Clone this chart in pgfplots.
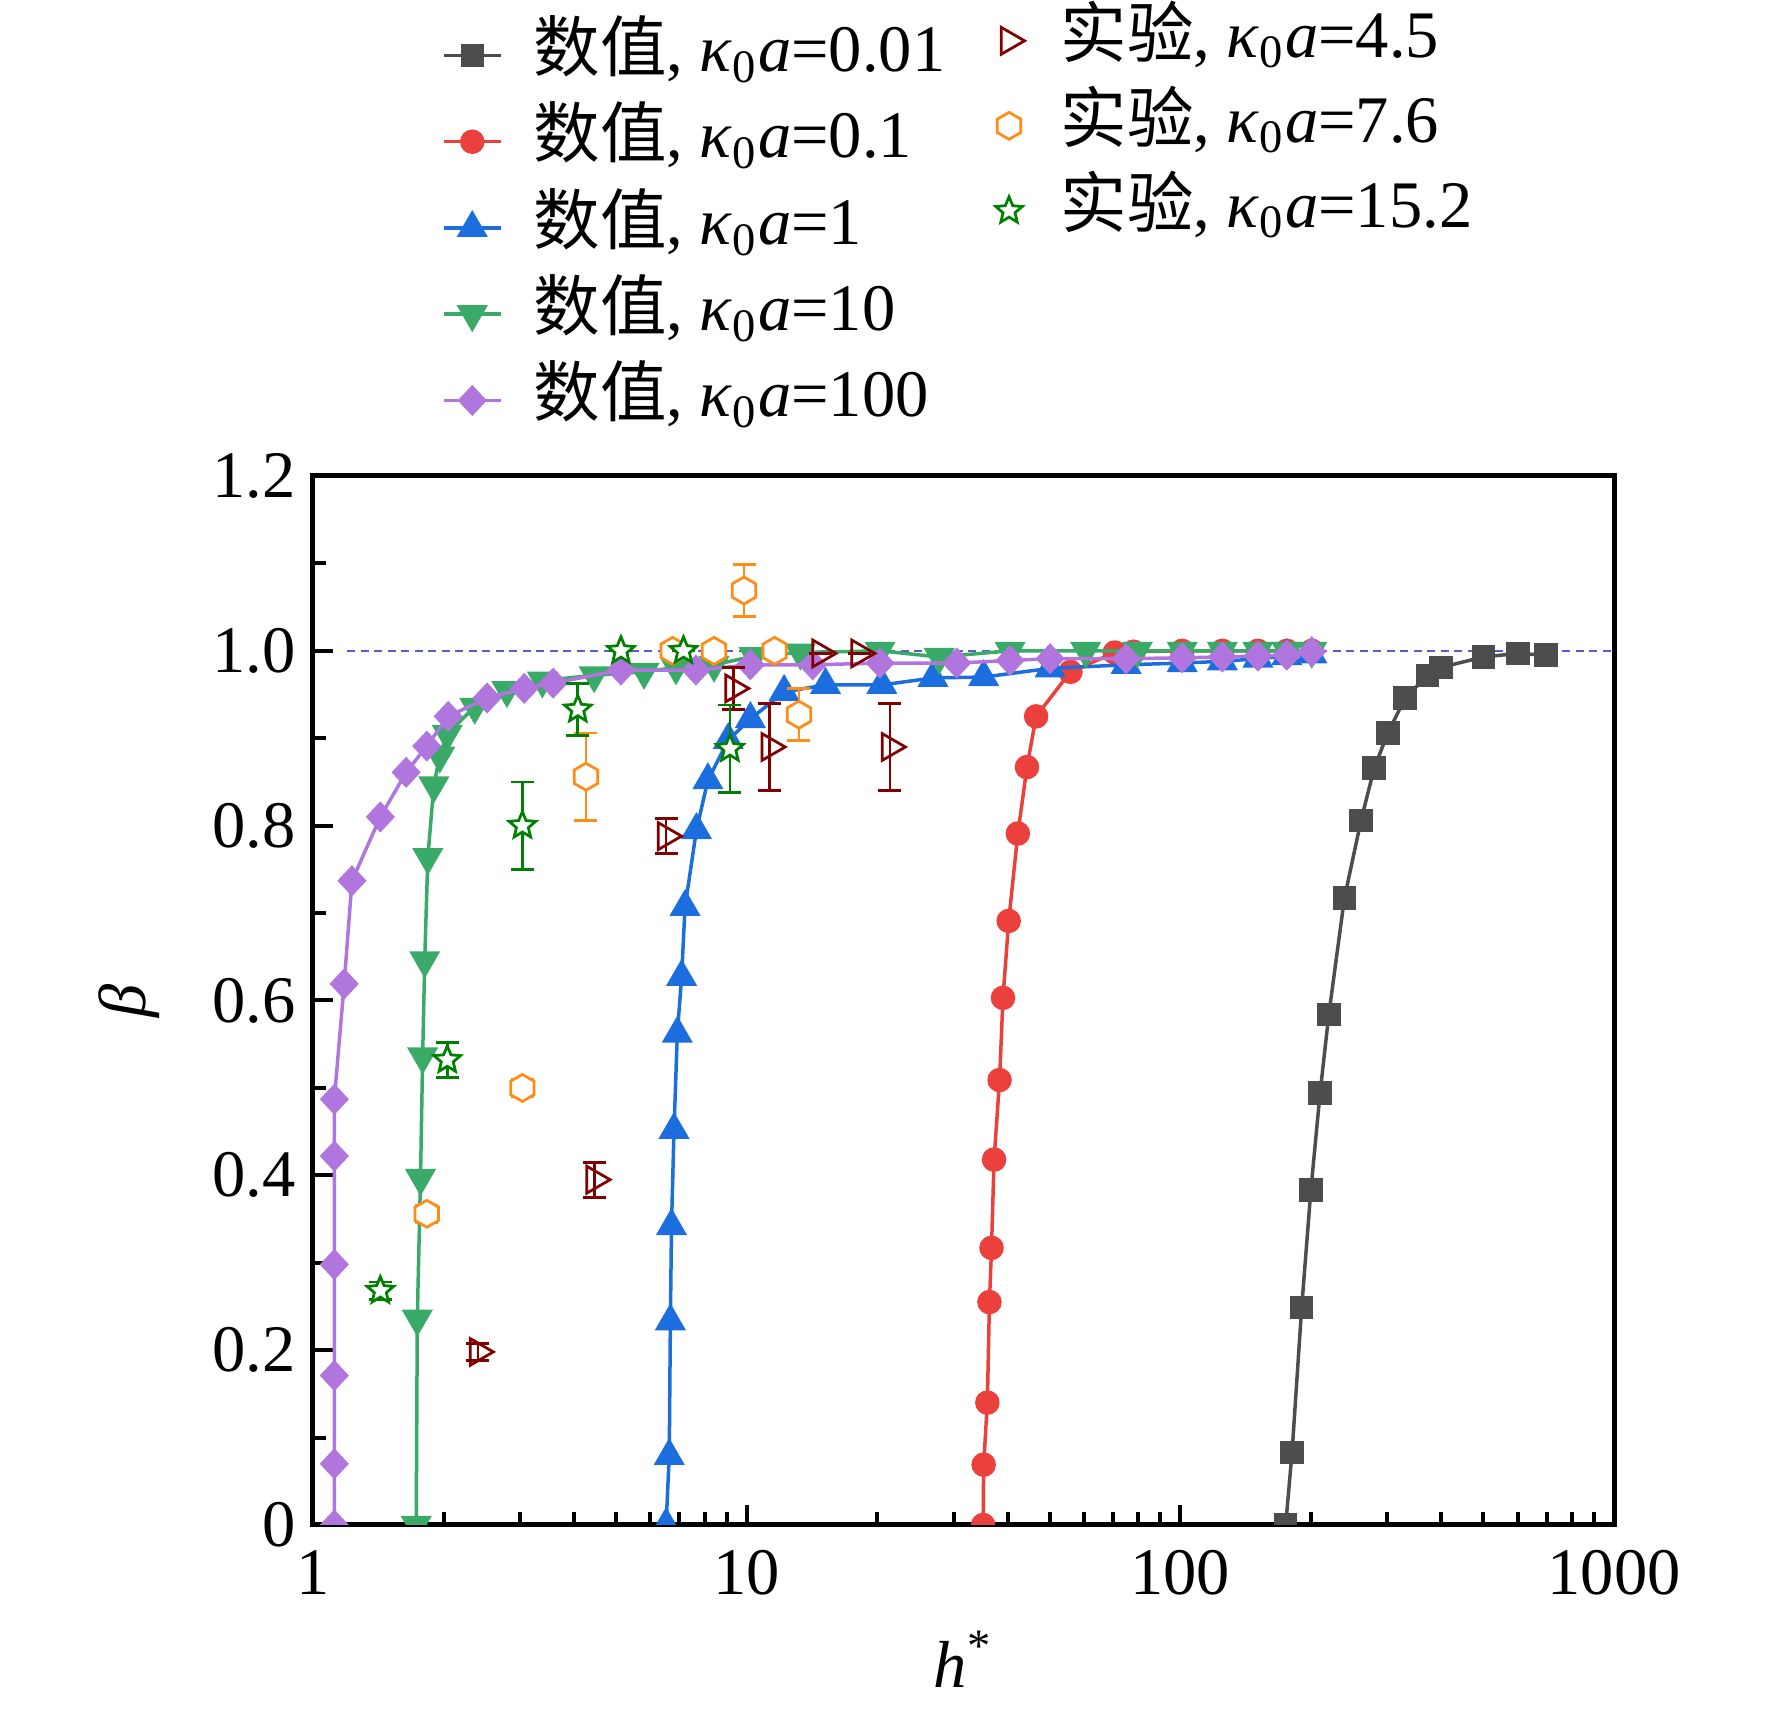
\documentclass[border=0pt]{standalone}
\usepackage{fontspec}
\setmainfont{Liberation Serif}
\newfontfamily\cjk{Noto Sans CJK SC}
\usepackage{pgfplots}
\usepackage{pgfplotstable}
\pgfplotsset{compat=1.18}
\usetikzlibrary{plotmarks}

\definecolor{cgray}{RGB}{77,77,77}
\definecolor{cred}{RGB}{235,64,60}
\definecolor{cblue}{RGB}{28,110,222}
\definecolor{cgreen}{RGB}{58,170,105}
\definecolor{cpurple}{RGB}{176,118,222}
\definecolor{cdred}{RGB}{128,0,0}
\definecolor{corange}{RGB}{255,140,20}
\definecolor{cstar}{RGB}{0,128,0}
\definecolor{cdash}{RGB}{90,90,210}

\pgfdeclareplotmark{hexagon}{%
  \pgfpathmoveto{\pgfpointpolar{90}{\pgfplotmarksize}}%
  \pgfpathlineto{\pgfpointpolar{150}{\pgfplotmarksize}}%
  \pgfpathlineto{\pgfpointpolar{210}{\pgfplotmarksize}}%
  \pgfpathlineto{\pgfpointpolar{270}{\pgfplotmarksize}}%
  \pgfpathlineto{\pgfpointpolar{330}{\pgfplotmarksize}}%
  \pgfpathlineto{\pgfpointpolar{30}{\pgfplotmarksize}}%
  \pgfpathclose
  \pgfusepathqfillstroke}
\pgfdeclareplotmark{ostar}{%
  \pgfpathmoveto{\pgfpointpolar{90}{\pgfplotmarksize}}%
  \pgfpathlineto{\pgfpointpolar{126}{0.45\pgfplotmarksize}}%
  \pgfpathlineto{\pgfpointpolar{162}{\pgfplotmarksize}}%
  \pgfpathlineto{\pgfpointpolar{198}{0.45\pgfplotmarksize}}%
  \pgfpathlineto{\pgfpointpolar{234}{\pgfplotmarksize}}%
  \pgfpathlineto{\pgfpointpolar{270}{0.45\pgfplotmarksize}}%
  \pgfpathlineto{\pgfpointpolar{306}{\pgfplotmarksize}}%
  \pgfpathlineto{\pgfpointpolar{342}{0.45\pgfplotmarksize}}%
  \pgfpathlineto{\pgfpointpolar{18}{\pgfplotmarksize}}%
  \pgfpathlineto{\pgfpointpolar{54}{0.45\pgfplotmarksize}}%
  \pgfpathclose
  \pgfusepathqfillstroke}

\pgfplotstableread{
x y
175 0.0
181 0.083
190.5 0.249
200 0.383
210 0.494
220 0.584
239 0.717
261 0.806
280 0.866
301 0.906
330 0.946
372 0.972
399 0.981
500 0.993
601 0.997
697 0.995
}\dataA
\pgfplotstableread{
x y
35.1 0.0
35.2 0.069
35.9 0.140
36.3 0.255
36.7 0.317
37.2 0.418
38.3 0.509
39.0 0.603
40.2 0.691
42.2 0.791
44.3 0.867
46.5 0.925
55.8 0.976
70.6 0.998
78 0.999
101 1.0
125 1.0
151 1.0
176 1.0
201 1.0
}\dataB
\pgfplotstableread{
x y
6.52 0.0
6.63 0.079
6.67 0.233
6.71 0.342
6.80 0.452
6.92 0.562
7.08 0.627
7.21 0.707
7.66 0.795
8.14 0.852
9.07 0.898
10.2 0.922
12.2 0.953
15.2 0.961
20.5 0.961
26.9 0.969
35.2 0.970
50.1 0.980
75 0.984
101 0.986
125 0.988
151 0.991
176 0.994
201 0.996
}\dataC
\pgfplotstableread{
x y
1.73 0.0
1.74 0.236
1.77 0.397
1.79 0.536
1.81 0.646
1.84 0.764
1.90 0.846
1.96 0.880
2.04 0.905
2.36 0.936
2.80 0.955
3.38 0.966
4.45 0.972
5.80 0.976
6.87 0.981
8.41 0.984
10.4 0.994
13.3 0.998
20.3 1.0
27.8 0.993
40.5 1.0
60.5 1.0
79.6 1.0
101 1.0
125 1.0
151 1.0
176 1.0
201 1.0
}\dataD
\pgfplotstableread{
x y
1.12 0.0
1.12 0.070
1.12 0.171
1.12 0.298
1.12 0.422
1.12 0.487
1.18 0.619
1.23 0.737
1.43 0.810
1.64 0.861
1.83 0.891
2.05 0.925
2.52 0.946
3.07 0.957
3.58 0.963
5.13 0.978
7.64 0.978
10.2 0.984
14.2 0.984
20.3 0.986
30.5 0.986
40.5 0.989
50.1 0.991
75 0.991
101 0.992
125 0.993
151 0.994
176 0.995
201 0.999
}\dataE
\pgfplotstableread{
x y e
2.40 0.198 0.01
4.46 0.395 0.02
6.52 0.788 0.02
9.32 0.957 0.024
11.3 0.890 0.05
14.8 0.997 0.0
18.2 0.997 0.0
21.4 0.890 0.05
}\expA
\pgfplotstableread{
x y e
1.83 0.356 0.01
3.04 0.500 0.01
4.26 0.856 0.05
6.75 1.0 0.0
8.41 1.0 0.0
9.86 1.069 0.03
11.6 1.0 0.0
13.2 0.927 0.03
}\expB
\pgfplotstableread{
x y e
1.43 0.268 0.01
2.04 0.532 0.02
3.04 0.800 0.05
4.08 0.933 0.03
5.13 1.0 0.0
7.15 1.0 0.0
9.15 0.888 0.05
}\expC

\newcommand{\ka}{\textit{κ}\textsubscript{0}\textit{a}}
\newcommand{\bfont}{\fontsize{13.3}{16}\selectfont}

\pgfplotsset{
  legimg/.style={legend image code/.code={\draw[mark repeat=2,mark phase=2,##1] plot coordinates {(0pt,0pt)(5.7pt,0pt)(11.4pt,0pt)};}},
}

\begin{document}
\begin{tikzpicture}
\useasboundingbox (-62.6pt,-38pt) rectangle (291.8pt,305pt);
\begin{axis}[
  at={(0pt,0pt)}, anchor=south west,
  width=260.2pt, height=209.8pt, scale only axis,
  xmode=log, xmin=1, xmax=1000, ymin=0, ymax=1.2,
  clip marker paths=true,
  font=\bfont,
  legend cell align=left, legimg,
  xtick={1,10,100,1000}, xticklabels={1,10,100,1000},
  minor xtick={2,3,4,5,6,7,8,9,20,30,40,50,60,70,80,90,200,300,400,500,600,700,800,900},
  ytick={0,0.2,0.4,0.6,0.8,1.0,1.2}, yticklabels={0,0.2,0.4,0.6,0.8,1.0,1.2},
  minor ytick={0.1,0.3,0.5,0.7,0.9,1.1},
  tick align=inside, tick pos=left,
  major tick length=4pt, minor tick length=2.6pt,
  every tick/.style={black, line width=0.8pt},
  axis line style={line width=1pt},
  xticklabel style={yshift=-1.6pt},
  xlabel={\textit{h}\textsuperscript{*}}, ylabel={\textit{β}},
  every axis x label/.style={at={(axis description cs:0.5,-0.155)}, anchor=base},
  every axis y label/.style={at={(axis description cs:-0.1414,0.5)}, anchor=center, rotate=90},
  legend style={at={(axis description cs:0.0984,1.434)}, anchor=north west,
    draw=none, fill=none, inner sep=0pt, row sep=3.75pt, column sep=6.2pt,
    nodes={inner sep=0pt, text height=10pt, text depth=3.5pt}, font=\bfont},
]
\addplot[forget plot, cdash, line width=0.5pt, dash pattern=on 1.6pt off 1.1pt] coordinates {(1.2,1) (1000,1)};
\addplot[color=cgray, line width=0.7pt, mark=square*, mark size=2pt, mark options={solid, fill=cgray, draw=cgray}] table[x=x,y=y] {\dataA};
\addlegendentry{{\cjk 数值}, \ka=0.01}
\addplot[color=cred, line width=0.7pt, mark=*, mark size=2.1pt, mark options={solid, fill=cred, draw=cred}] table[x=x,y=y] {\dataB};
\addlegendentry{{\cjk 数值}, \ka=0.1}
\addplot[color=cblue, line width=0.7pt, mark=triangle*, mark size=2.9pt, mark options={solid, fill=cblue, draw=cblue}] table[x=x,y=y] {\dataC};
\addlegendentry{{\cjk 数值}, \ka=1}
\addplot[color=cgreen, line width=0.7pt, mark=triangle*, mark size=2.9pt, mark options={solid, fill=cgreen, draw=cgreen, rotate=180}] table[x=x,y=y] {\dataD};
\addlegendentry{{\cjk 数值}, \ka=10}
\addplot[color=cpurple, line width=0.7pt, mark=diamond*, mark size=2.6pt, mark options={solid, fill=cpurple, draw=cpurple, xscale=1.25}] table[x=x,y=y] {\dataE};
\addlegendentry{{\cjk 数值}, \ka=100}
\end{axis}
\begin{axis}[
  at={(0pt,0pt)}, anchor=south west,
  width=260.2pt, height=209.8pt, scale only axis,
  xmode=log, xmin=1, xmax=1000, ymin=0, ymax=1.2,
  clip marker paths=true, hide axis,
  font=\bfont,
  legend cell align=left, legimg,
  legend style={at={(axis description cs:0.524,1.448)}, anchor=north west,
    draw=none, fill=none, inner sep=0pt, row sep=3.5pt, column sep=7.2pt,
    nodes={inner sep=0pt, text height=10pt, text depth=3.5pt}, font=\bfont},
]
\addplot[only marks, color=cdred, line width=0.55pt, mark=triangle, mark size=3.1pt, mark options={rotate=-90, fill=white, solid},
  error bars/y dir=both, error bars/y explicit,
  error bars/error bar style={line width=0.55pt, solid},
  error bars/error mark options={rotate=90, mark size=2.3pt, line width=0.55pt}] table[x=x,y=y,y error=e] {\expA};
\addlegendentry{{\cjk 实验}, \ka=4.5}
\addplot[only marks, color=corange, line width=0.55pt, mark=hexagon, mark size=2.7pt, mark options={fill=white, solid},
  error bars/y dir=both, error bars/y explicit,
  error bars/error bar style={line width=0.55pt, solid},
  error bars/error mark options={rotate=90, mark size=2.3pt, line width=0.55pt}] table[x=x,y=y,y error=e] {\expB};
\addlegendentry{{\cjk 实验}, \ka=7.6}
\addplot[only marks, color=cstar, line width=0.55pt, mark=ostar, mark size=2.8pt, mark options={fill=white, solid},
  error bars/y dir=both, error bars/y explicit,
  error bars/error bar style={line width=0.55pt, solid},
  error bars/error mark options={rotate=90, mark size=2.3pt, line width=0.55pt}] table[x=x,y=y,y error=e] {\expC};
\addlegendentry{{\cjk 实验}, \ka=15.2}
\end{axis}
\end{tikzpicture}
\end{document}
